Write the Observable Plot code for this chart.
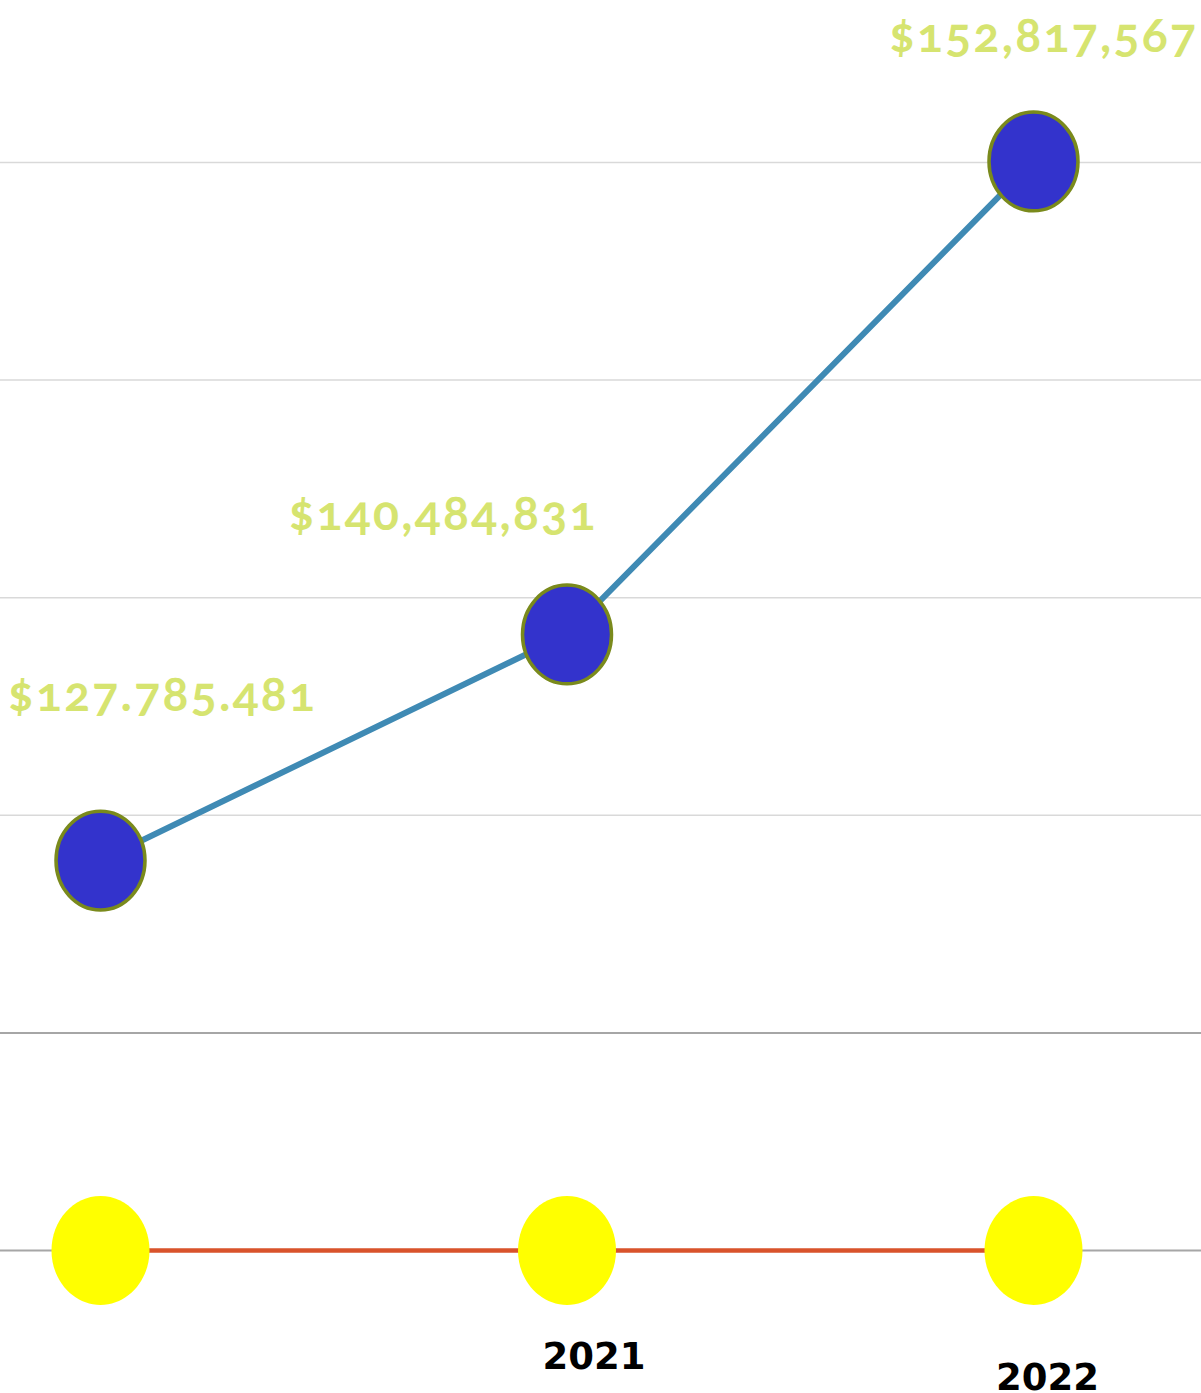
<!DOCTYPE html>
<html>
<head>
<meta charset="utf-8">
<script src="https://cdn.jsdelivr.net/npm/d3@7"></script>
<script src="https://cdn.jsdelivr.net/npm/@observablehq/plot@0.6"></script>
<style>
  html, body { margin: 0; padding: 0; background: #ffffff; }
  #chart svg { display: block; }
  .vlabel text { letter-spacing: 2.3px; font-variant-numeric: oldstyle-nums; }
</style>
</head>
<body>
<div id="chart"></div>
<script>
// ---- data ----
const years = [2020, 2021, 2022];
// plotted level of the revenue series, in gridline units (gridline 0 = bottom axis)
const revenueLevel = [1.792, 2.831, 5.005];
const revenueLabels = ["$127.785.481", "$140,484,831", "$152,817,567"];
const baseLevel = [0, 0, 0];
const gridLevels = [0, 1, 2, 3, 4, 5];
const tickYears = [2021, 2022];
const tickLabels = ["2021", "2022"];

// ---- styling ----
const labelOffsets = [{dx: 62, dy: -150}, {dx: -124, dy: -104}, {dx: 10, dy: -109}];
const tickOffsets = [{dx: 27, dy: 118}, {dx: 14, dy: 139}];

const revenueData = years.map((y, i) => ({year: y, level: revenueLevel[i], label: revenueLabels[i]}));
const baseData = years.map((y, i) => ({year: y, level: baseLevel[i]}));
const gridData = gridLevels.map(v => ({level: v}));

const ellipse = {
  draw(ctx, size) {
    const r = Math.sqrt(size / Math.PI);
    const rx = r, ry = r * 1.11, k = 0.5523;
    ctx.moveTo(rx, 0);
    ctx.bezierCurveTo(rx, ry * k, rx * k, ry, 0, ry);
    ctx.bezierCurveTo(-rx * k, ry, -rx, ry * k, -rx, 0);
    ctx.bezierCurveTo(-rx, -ry * k, -rx * k, -ry, 0, -ry);
    ctx.bezierCurveTo(rx * k, -ry, rx, -ry * k, rx, 0);
    ctx.closePath();
  }
};

const marks = [
  Plot.ruleY(gridData.filter(d => d.level >= 2), {y: "level", stroke: "#d9d9d9", strokeWidth: 1.5}),
  Plot.ruleY(gridData.filter(d => d.level < 2), {y: "level", stroke: "#a6a6a6", strokeWidth: 2}),
  Plot.line(baseData, {x: "year", y: "level", stroke: "#d9532b", strokeWidth: 4.5}),
  Plot.line(revenueData, {x: "year", y: "level", stroke: "#3f8ab4", strokeWidth: 6}),
  Plot.dot(baseData, {x: "year", y: "level", r: 49, symbol: ellipse, fill: "#ffff00", stroke: "none"}),
  Plot.dot(revenueData, {x: "year", y: "level", r: 44.5, symbol: ellipse, fill: "#3333cc", stroke: "#7a8a1c", strokeWidth: 3.5})
];

revenueData.forEach((d, i) => {
  marks.push(Plot.text([d], {
    x: "year", y: "level", text: "label",
    dx: labelOffsets[i].dx, dy: labelOffsets[i].dy,
    textAnchor: "middle", lineAnchor: "bottom",
    fill: "#d6e470", fontSize: 48, fontWeight: "bold",
    fontFamily: "Lato, 'Open Sans', sans-serif",
    className: "vlabel"
  }));
});

tickYears.forEach((t, i) => {
  marks.push(Plot.text([{year: t, level: 0, label: tickLabels[i]}], {
    x: "year", y: "level", text: "label",
    dx: tickOffsets[i].dx, dy: tickOffsets[i].dy,
    textAnchor: "middle", lineAnchor: "bottom",
    fill: "#000000", fontSize: 37, fontWeight: "bold",
    fontFamily: "'DejaVu Sans', sans-serif"
  }));
});

const W = 1201, H = 1393;
const chart = Plot.plot({
  width: W,
  height: H,
  margin: 0,
  x: {type: "linear", domain: [2020, 2022], range: [100, 1033], axis: null},
  y: {type: "linear", domain: [-143 / 217.6, 1250 / 217.6], range: [H, 0], axis: null},
  style: {background: "#ffffff", overflow: "visible"},
  marks
});
document.getElementById("chart").appendChild(chart);
</script>
</body>
</html>
